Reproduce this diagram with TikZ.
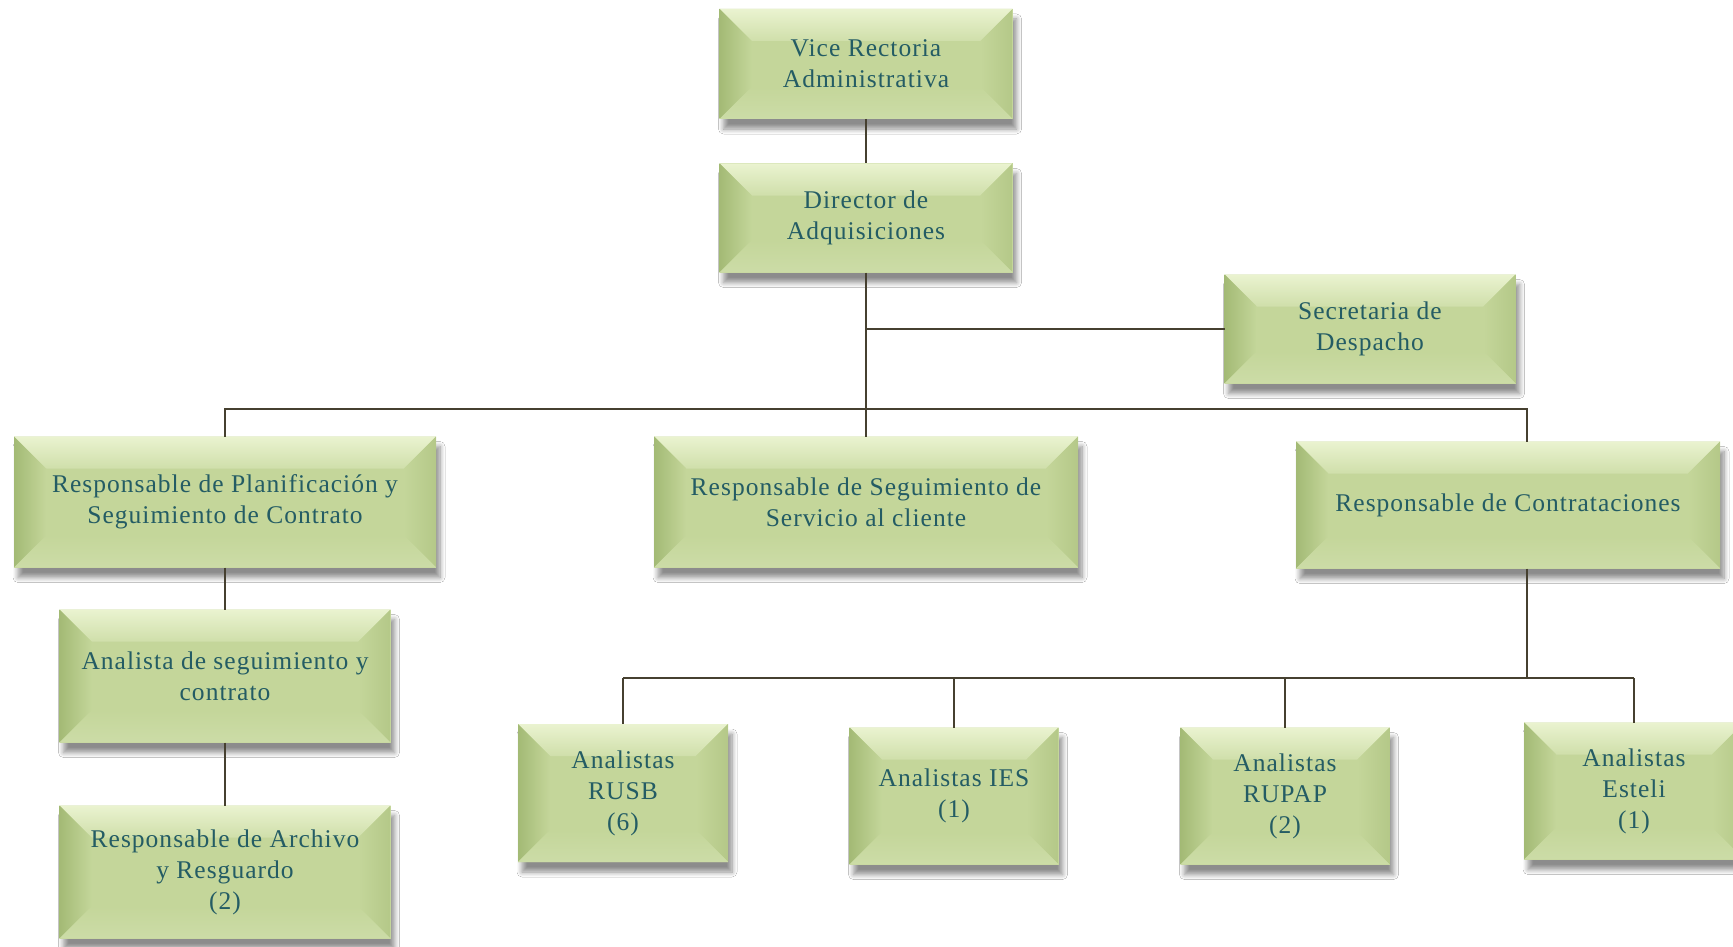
\documentclass[tikz,border=0pt]{standalone}
\usepackage{fontspec}
\setmainfont{Liberation Serif}[LetterSpace=4]
\usepackage{tikz}
\usetikzlibrary{calc, shadows.blur}
\definecolor{boxface}{RGB}{196,214,154}
\definecolor{boxtop}{RGB}{234,243,208}
\definecolor{boxleft}{RGB}{163,186,117}
\definecolor{boxright}{RGB}{180,200,136}
\definecolor{boxbottom}{RGB}{204,220,167}
\definecolor{boxtext}{RGB}{36,92,100}
\definecolor{conncol}{RGB}{70,64,48}
\newcommand{\bev}{32}

\begin{document}
\begin{tikzpicture}[
    x=1pt, y=-1pt,
    box/.style = {inner sep=0pt, outer sep=0pt, align=center,
        text=boxtext, font=\fontsize{25.5}{31}\selectfont, fill=boxface,
        blur shadow={shadow xshift=4pt, shadow yshift=-10pt,
            shadow blur radius=5pt, shadow blur steps=8, shadow opacity=45},
        path picture={
          \path (path picture bounding box.north west) coordinate (nw)
                (path picture bounding box.north east) coordinate (ne)
                (path picture bounding box.south west) coordinate (sw)
                (path picture bounding box.south east) coordinate (se);
          \fill[top color=boxtop, bottom color=boxface!70!boxtop]
            (nw) -- (ne) -- ($(ne)+(-\bev,\bev)$) -- ($(nw)+(\bev,\bev)$) -- cycle;
          \fill[left color=boxleft, right color=boxface]
            (nw) -- ($(nw)+(\bev,\bev)$) -- ($(sw)+(\bev,-\bev)$) -- (sw) -- cycle;
          \fill[left color=boxface, right color=boxright]
            (ne) -- ($(ne)+(-\bev,\bev)$) -- ($(se)+(-\bev,-\bev)$) -- (se) -- cycle;
          \fill[top color=boxface, bottom color=boxbottom]
            (sw) -- ($(sw)+(\bev,-\bev)$) -- ($(se)+(-\bev,-\bev)$) -- (se) -- cycle;
        }},
    conn/.style = {draw=conncol, line width=1.8pt}
  ]
  \fill[white] (0,0) rectangle (1733,947);
  \useasboundingbox (0,0) rectangle (1733,947);

  % top of the chart
  \node[box, minimum width=293, minimum height=110] (vice) at (866,64)
    {Vice Rectoria\\Administrativa};
  \node[box, minimum width=293, minimum height=109] (director) at (866,218)
    {Director de\\Adquisiciones};
  \node[box, minimum width=291, minimum height=109] (secretaria) at (1370,329)
    {Secretaria de\\Despacho};

  % second level
  \node[box, minimum width=422, minimum height=131] (planif) at (225,502)
    {Responsable de Planificación y\\Seguimiento de Contrato};
  \node[box, minimum width=424, minimum height=131] (servicio) at (866,502)
    {Responsable de Seguimiento de\\Servicio al cliente};
  \node[box, minimum width=424, minimum height=127] (contrat) at (1508,505)
    {Responsable de Contrataciones};

  % left column
  \node[box, minimum width=331, minimum height=133] (analista) at (225,676)
    {Analista de seguimiento y\\contrato};
  \node[box, minimum width=331, minimum height=133] (archivo) at (225,872)
    {Responsable de Archivo\\y Resguardo\\(2)};

  % analistas
  \node[box, minimum width=210, minimum height=138] (rusb) at (623,793)
    {Analistas\\RUSB\\(6)};
  \node[box, minimum width=209, minimum height=137] (ies) at (954,796)
    {Analistas IES\\(1)};
  \node[box, minimum width=209, minimum height=137] (rupap) at (1285,796)
    {Analistas\\RUPAP\\(2)};
  \node[box, minimum width=220, minimum height=137] (esteli) at (1634,791)
    {Analistas\\Esteli\\(1)};

  % connectors
  \coordinate (topbus) at (866,409);
  \coordinate (lowbus) at (1527,678);
  \draw[conn] (vice.south) -- (director.north);
  \draw[conn] (director.south) -- (servicio.north);
  \draw[conn] (secretaria.west) -- (secretaria.west -| director.south);
  \draw[conn] (planif.north) |- (topbus) -| ([xshift=19pt]contrat.north);
  \draw[conn] (planif.south) -- (analista.north);
  \draw[conn] (analista.south) -- (archivo.north);
  \draw[conn] ([xshift=19pt]contrat.south) -- (lowbus);
  \draw[conn] (rusb.north |- lowbus) -- (esteli.north |- lowbus);
  \foreach \n in {rusb, ies, rupap, esteli}
    \draw[conn] (\n.north) -- (\n.north |- lowbus);
\end{tikzpicture}
\end{document}
